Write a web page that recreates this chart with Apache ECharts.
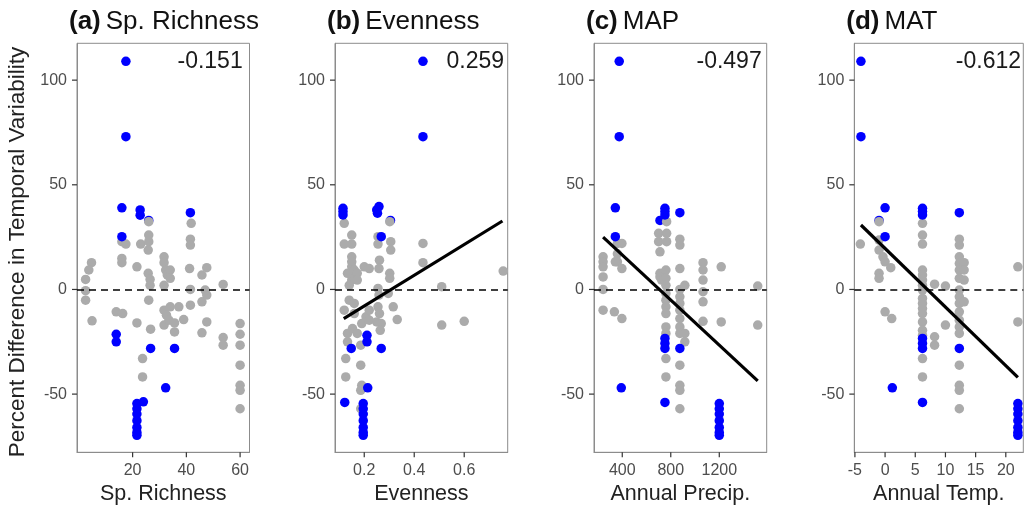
<!DOCTYPE html>
<html>
<head>
<meta charset="utf-8">
<script src="https://cdn.jsdelivr.net/npm/echarts@6/dist/echarts.min.js"></script>
<style>
html,body{margin:0;padding:0;background:#fff;}
#chart{width:1025px;height:506px;}
</style>
</head>
<body>
<div id="chart"></div>
<script>
// ---------- data ----------
const panelTitles = ['(a)', '(b)', '(c)', '(d)'];
const panelNames = ['Sp. Richness', 'Evenness', 'MAP', 'MAT'];
const xTitles = ['Sp. Richness', 'Evenness', 'Annual Precip.', 'Annual Temp.'];
const yTitle = 'Percent Difference in Temporal Variability';
const corrLabels = ['-0.151', '0.259', '-0.497', '-0.612'];
const yTicks = [-50, 0, 50, 100];
const xTicksRich = [20, 40, 60];
const xTicksEven = [0.2, 0.4, 0.6];
const xTicksMap = [400, 800, 1200];
const xTicksMat = [-5, 0, 5, 10, 15, 20];

// (a) species richness
const richBlue = [[17.5,109],[17.5,73],[16,39],[16,25.2],[22.8,38],[22.8,35.5],[41.5,36.7],[13.9,-21.4],[13.9,-25],[26.7,-28.2],[35.6,-28.2],[32.3,-47],[24,-53.7],[21.6,-54.5],[21.6,-57],[21.6,-59.5],[21.6,-62.7],[21.6,-65.9],[21.6,-68.3],[21.6,-69.7]];
const richRing = [[26,33]];
const richGray = [[4.7,12.8],[3.7,9.3],[2.5,4.8],[2.5,-0.6],[2.5,-5.1],[4.9,-15],[13.9,-10.7],[16.3,-11.5],[16,22.8],[17.5,21.7],[16,14.8],[16,12.8],[21.6,10.8],[21.6,-16],[23,21.7],[23.7,-33],[23.7,-41.8],[26,32.4],[26,26],[26,22.8],[25.8,18.8],[25.8,7.7],[26.5,4.8],[26.5,2],[26,-5.1],[26.7,-19],[31.7,15.6],[31.7,12.8],[32.3,9.3],[32.9,6.9],[34,9.3],[34,5.3],[31.7,2],[31.7,-9.9],[32.6,-12.3],[31.7,-17],[33.5,-14.7],[34,-8.3],[37.2,-8.3],[35.6,-16],[35.6,-20.3],[39,-14.4],[41.8,31.6],[41.5,24],[41.5,21.2],[41.2,10],[41.5,0],[41.5,-7.5],[45.8,6.9],[47.6,10.4],[45.8,-5.9],[47.6,-2.7],[45.8,-20.7],[47.6,-15.5],[47,-0.3],[53.7,2.4],[53.7,-23],[53.7,-26.6],[60,-16.3],[60,-21.4],[60,-26.6],[60,-36.2],[60,-45.8],[60,-48.2],[60,-57]];

// (b) evenness
const evenBlue = [[0.435,109],[0.435,73],[0.115,38.8],[0.115,37.2],[0.115,35.6],[0.259,39.6],[0.25,38],[0.253,36.4],[0.268,25.2],[0.148,-28.2],[0.211,-21.9],[0.211,-25],[0.268,-28.2],[0.214,-47],[0.122,-54],[0.196,-54.5],[0.196,-57],[0.196,-59.5],[0.196,-62.7],[0.196,-65.9],[0.196,-68.3],[0.196,-69.7]];
const evenRing = [[0.305,33]];
const evenGray = [[0.12,31.6],[0.12,21.7],[0.15,26],[0.15,21.7],[0.15,15.6],[0.15,13.2],[0.15,10.8],[0.15,7.7],[0.15,4.5],[0.16,9.3],[0.133,7.7],[0.14,2],[0.172,7.7],[0.172,4.5],[0.2,10.8],[0.22,10],[0.14,-5.1],[0.16,-6.7],[0.12,-9.9],[0.16,-11.5],[0.19,-16.3],[0.207,-13.1],[0.22,-9.9],[0.22,-14.7],[0.153,-18.7],[0.172,-21],[0.133,-21],[0.133,-25],[0.126,-33],[0.126,-41.8],[0.186,-26.6],[0.186,-36.2],[0.19,-45.8],[0.186,-48.2],[0.186,-57],[0.255,25.2],[0.255,21.7],[0.261,14],[0.259,10],[0.255,0.5],[0.259,-2.7],[0.255,-8.3],[0.261,-11.5],[0.25,-15.5],[0.268,-16.3],[0.264,-19.5],[0.302,32.4],[0.306,22.8],[0.306,18.8],[0.302,7.7],[0.302,5.3],[0.296,-1.9],[0.316,-8.3],[0.332,-14.4],[0.435,22],[0.435,12.8],[0.51,1.3],[0.51,-17],[0.6,-15.2],[0.756,8.8]];
const evenFit = [[0.118,-13.9],[0.753,32.7]];

// (c) mean annual precipitation
const mapBlue = [[375,109],[375,73],[343,39],[343,25.2],[752,38.8],[752,37.2],[752,35.6],[875,36.7],[752,-23.4],[752,-25.8],[752,-28.2],[875,-28.2],[392,-47],[752,-54],[1200,-54.5],[1200,-57],[1200,-59.5],[1200,-62.7],[1200,-65.9],[1200,-68.3],[1200,-69.7]];
const mapRing = [[711,33]];
const mapGray = [[242,15.6],[242,13.2],[242,10.8],[242,6],[242,0],[242,-9.9],[360,22],[360,17],[360,13.2],[343,13.2],[397,10],[397,22],[335,-10.7],[397,-13.9],[700,26.8],[700,22.8],[711,18],[711,7.7],[711,6],[725,4.5],[766,32.4],[766,26.8],[766,22.8],[760,9.3],[760,5.3],[760,2],[760,-1.9],[760,-5.1],[760,-8.3],[760,-11.5],[760,-17.9],[760,-21],[760,-33],[760,-41.8],[875,24],[875,21.2],[875,10],[875,0],[875,-3.5],[875,-6.7],[875,-9.9],[875,-13.9],[875,-17.9],[875,-21],[916,2],[916,-21],[916,-25],[875,-36.2],[875,-45.8],[875,-48.2],[875,-57],[1066,12.8],[1066,9.3],[1066,4.5],[1066,-1.1],[1066,-5.9],[1066,-15.2],[1216,10.8],[1216,-15.5],[1517,1.6],[1517,-17]];
const mapFit = [[242,25],[1517,-43.7]];

// (d) mean annual temperature
const matBlue = [[-4,109],[-4,73],[0,39],[0,25.2],[6.2,38.8],[6.2,37.2],[6.2,35.6],[12.3,36.7],[6.2,-23.4],[6.2,-25.8],[6.2,-28.2],[12.3,-28.2],[1.2,-47],[6.2,-54],[22,-54.5],[22,-57],[22,-59.5],[22,-62.7],[22,-65.9],[22,-68.3],[22,-69.7]];
const matRing = [[-1,33]];
const matGray = [[-4.1,21.7],[-1,32.4],[-1,23.6],[-1,18.8],[-0.35,15.6],[0,13.2],[0.94,10.4],[-1,7.7],[-1,5.3],[0,-10.7],[1.1,-13.9],[6.2,31.6],[6.2,26],[6.2,21.7],[6.2,9.3],[6.2,6.9],[6.2,4.5],[6.2,2],[6.2,-0.3],[6.2,-4.3],[6.2,-6.7],[6.2,-9.1],[6.2,-11.5],[6.2,-15.5],[6.2,-19.5],[6.2,-21.9],[6.2,-33],[6.2,-41.8],[8.2,2.5],[8.2,-22.6],[8.2,-26.6],[10,1.6],[10,-17],[12.3,24],[12.3,21.2],[12.3,15.6],[12.3,12.4],[12.3,9.3],[12.3,5.3],[12.3,-0.3],[12.3,-3.5],[12.3,-6.7],[12.3,-10.7],[12.3,-14.7],[12.3,-17.9],[12.3,-21],[13.1,12.8],[13.1,9.3],[13.1,4.5],[13.1,-5.9],[12.3,-36.2],[12.3,-45.8],[12.3,-48.2],[12.3,-57],[22,10.8],[22,-15.5]];
const matFit = [[-4,30.8],[22,-42]];

// ---------- layout / style ----------
const FONT = "'Liberation Sans', Arial, Helvetica, sans-serif";
const grids = [
  {left: 77, width: 172.5},
  {left: 335, width: 172.7},
  {left: 594, width: 172.7},
  {left: 854.3, width: 169}
];
const xRanges = [[-0.7, 63.5], [0.083, 0.774], [167, 1591], [-5.1, 22.9]];
const yRange = [-77.8, 117.6];
const xTickSets = [xTicksRich, xTicksEven, xTicksMap, xTicksMat];
const blueSets = [richBlue, evenBlue, mapBlue, matBlue];
const ringSets = [richRing, evenRing, mapRing, matRing];
const graySets = [richGray, evenGray, mapGray, matGray];
const fitSets = [null, evenFit, mapFit, matFit];
const corrRight = [242.7, 504, 761.7, 1021];

const GRAY = '#ababab', BLUE = '#0000ff', SYM = 9.5, FRAME = '#8c8c8c', TICK = '#333333', TLEN = 5;
const plain = v => String(v);

const option = {
  animation: false,
  backgroundColor: '#ffffff',
  textStyle: {fontFamily: FONT},
  title: [],
  grid: [],
  xAxis: [],
  yAxis: [],
  series: [],
  graphic: []
};

for (let i = 0; i < 4; i++) {
  const xr = xRanges[i];
  option.grid.push({
    left: grids[i].left, width: grids[i].width, top: 43.3, height: 409,
    containLabel: false, outerBoundsMode: 'none',
    show: true, borderColor: FRAME, borderWidth: 1, backgroundColor: 'transparent'
  });
  option.title.push({
    text: '{b|' + panelTitles[i] + '} {n|' + panelNames[i] + '}',
    left: grids[i].left - 8, top: 9,
    padding: 0,
    textStyle: {
      rich: {
        b: {fontFamily: FONT, fontSize: 26, fontWeight: 'bold', color: '#111'},
        n: {fontFamily: FONT, fontSize: 26, fontWeight: 'normal', color: '#111'}
      }
    }
  });
  option.xAxis.push({
    type: 'value', gridIndex: i, min: xr[0], max: xr[1],
    name: xTitles[i], nameLocation: 'middle', nameGap: 30,
    nameTextStyle: {fontFamily: FONT, fontSize: 21.5, color: '#222'},
    axisLine: {show: true, onZero: false, lineStyle: {color: FRAME, width: 1}},
    splitLine: {show: false},
    axisTick: {show: false},
    axisLabel: {show: true, customValues: xTickSets[i], formatter: plain, margin: 10, fontFamily: FONT, fontSize: 16, color: '#4d4d4d'}
  });
  option.yAxis.push({
    type: 'value', gridIndex: i, min: yRange[0], max: yRange[1],
    axisLine: {show: true, onZero: false, lineStyle: {color: FRAME, width: 1}},
    splitLine: {show: false},
    axisTick: {show: false},
    axisLabel: {show: true, customValues: yTicks, formatter: plain, margin: 10, fontFamily: FONT, fontSize: 16, color: '#4d4d4d'}
  });
  option.series.push({
    type: 'scatter', xAxisIndex: i, yAxisIndex: i, data: ringSets[i],
    symbolSize: SYM, itemStyle: {color: BLUE, opacity: 1}, z: 2,
    markLine: {
      silent: true, symbol: ['none', 'none'], label: {show: false},
      lineStyle: {color: '#000', type: [7, 5], width: 1.5},
      data: [{yAxis: 0}]
    }
  });
  option.series.push({
    type: 'scatter', xAxisIndex: i, yAxisIndex: i, data: graySets[i],
    symbolSize: SYM, itemStyle: {color: GRAY, opacity: 1}, z: 3
  });
  option.series.push({
    type: 'scatter', xAxisIndex: i, yAxisIndex: i, data: blueSets[i],
    symbolSize: SYM, itemStyle: {color: BLUE, opacity: 1}, z: 4
  });
  if (fitSets[i]) {
    option.series.push({
      type: 'line', xAxisIndex: i, yAxisIndex: i, data: fitSets[i],
      showSymbol: false, symbol: 'none', lineStyle: {color: '#000', width: 3.2}, z: 5
    });
  }
  option.graphic.push({
    type: 'text', x: corrRight[i], y: 62, z: 10,
    style: {text: corrLabels[i], align: 'right', verticalAlign: 'middle', font: '23px ' + FONT, fill: '#1a1a1a'}
  });
}
option.graphic.push({
  type: 'text', x: 18, y: 252, rotation: Math.PI / 2, z: 10,
  style: {text: yTitle, align: 'center', verticalAlign: 'middle', font: '22.5px ' + FONT, fill: '#222'}
});

const chart = echarts.init(document.getElementById('chart'), null, {renderer: 'canvas'});
chart.setOption(option);

// outward tick marks, placed through the axes' own scales
const tickEls = [];
for (let i = 0; i < 4; i++) {
  const xr = xRanges[i];
  xTickSets[i].forEach(v => {
    const p = chart.convertToPixel({gridIndex: i}, [v, yRange[0]]);
    tickEls.push({type: 'line', z: 20, silent: true,
      shape: {x1: p[0], y1: p[1], x2: p[0], y2: p[1] + TLEN},
      style: {stroke: TICK, lineWidth: 1.2}});
  });
  yTicks.forEach(v => {
    const p = chart.convertToPixel({gridIndex: i}, [xr[0], v]);
    tickEls.push({type: 'line', z: 20, silent: true,
      shape: {x1: p[0] - TLEN, y1: p[1], x2: p[0], y2: p[1]},
      style: {stroke: TICK, lineWidth: 1.2}});
  });
}
chart.setOption({graphic: option.graphic.concat(tickEls)});
</script>
</body>
</html>
